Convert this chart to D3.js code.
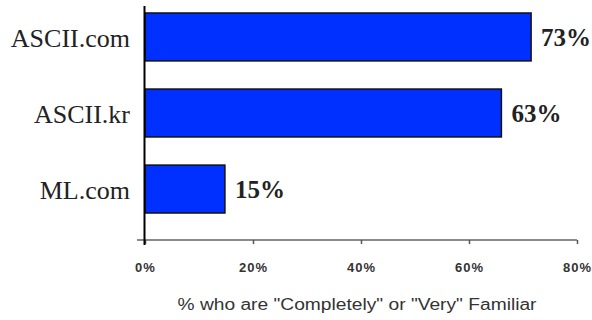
<!DOCTYPE html>
<html><head><meta charset="utf-8">
<script src="https://cdn.jsdelivr.net/npm/d3@7"></script>
<style>html,body{margin:0;padding:0;background:#fff;}svg{display:block;}</style>
</head><body>
<svg id="c" width="592" height="320"></svg>
<script>
const categories = ["ASCII.com", "ASCII.kr", "ML.com"];
const values = [71.5, 66, 14.8];
const valueLabels = ["73%", "63%", "15%"];
const tickValues = [0, 20, 40, 60, 80];
const axisTitle = '% who are "Completely" or "Very" Familiar';

const svg = d3.select("#c");
const x = d3.scaleLinear().domain([0, 80]).range([145, 577]);
const y = d3.scaleBand().domain(categories).range([13, 213]).paddingInner(0.37).paddingOuter(0);

// x axis
const xAxis = d3.axisBottom(x).tickValues(tickValues).tickFormat(d => d + "%").tickSizeInner(4).tickSizeOuter(0);
const gx = svg.append("g").attr("transform", "translate(0,240)").call(xAxis);
gx.select(".domain").attr("d", `M137,0H${x(80)}`).attr("stroke", "#8a8a8a").attr("stroke-width", 2);
gx.selectAll(".tick line").attr("stroke", "#555").attr("stroke-width", 1.5);
gx.selectAll(".tick text").attr("y", 32).attr("dy", 0)
  .attr("font-family", "Arial, 'Liberation Sans', sans-serif").attr("font-size", 13).attr("font-weight", "bold")
  .attr("fill", "#333").attr("letter-spacing", 1);

svg.append("text").attr("x", 357).attr("y", 310).attr("text-anchor", "middle")
  .attr("font-family", "Arial, 'Liberation Sans', sans-serif").attr("font-size", 16)
  .attr("textLength", 359).attr("lengthAdjust", "spacingAndGlyphs")
  .attr("fill", "#333").text(axisTitle);

// bars
svg.append("g").selectAll("rect").data(categories).join("rect")
  .attr("x", x(0)).attr("y", d => y(d))
  .attr("width", (d, i) => x(values[i]) - x(0)).attr("height", y.bandwidth())
  .attr("fill", "#0030ff").attr("stroke", "#111").attr("stroke-width", 1.5);

// y axis line
svg.append("line").attr("x1", 144.5).attr("x2", 144.5).attr("y1", 6).attr("y2", 245)
  .attr("stroke", "#000").attr("stroke-width", 2);

// category labels
svg.append("g").selectAll("text").data(categories).join("text")
  .attr("x", 130).attr("y", d => y(d) + y.bandwidth() / 2 + 10)
  .attr("text-anchor", "end").attr("font-family", "'Liberation Serif', 'Times New Roman', serif")
  .attr("font-size", 26).attr("fill", "#222").text(d => d);

// value labels
svg.append("g").selectAll("text").data(categories).join("text")
  .attr("x", (d, i) => x(values[i]) + 10).attr("y", d => y(d) + y.bandwidth() / 2 + 9)
  .attr("font-family", "'Liberation Serif', 'Times New Roman', serif").attr("font-weight", "bold")
  .attr("font-size", 25).attr("fill", "#222").text((d, i) => valueLabels[i]);
</script>
</body></html>
